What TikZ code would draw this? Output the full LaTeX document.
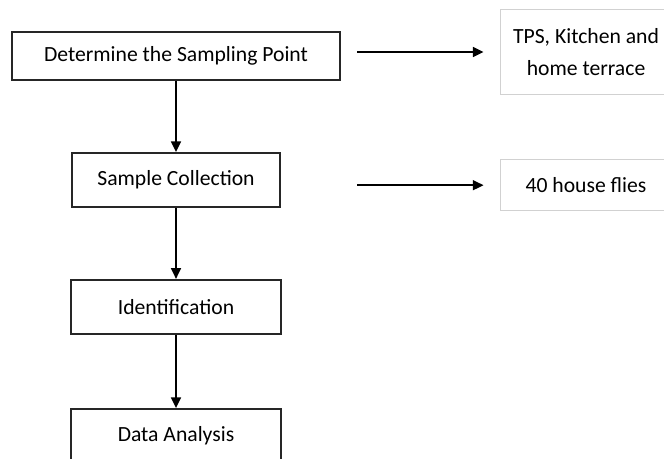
\documentclass[tikz,border=0pt]{standalone}
\usepackage{fontspec}
\setmainfont{Carlito}
\usetikzlibrary{arrows.meta}

\tikzset{
	stepbox/.style={draw=black!85, line width=1.3pt, minimum height=1.35cm, inner sep=0pt},
	notebox/.style={draw=black!18, line width=0.6pt, minimum width=4.3cm, inner sep=0pt, align=center},
}

\begin{document}
\begin{tikzpicture}[arrows={-Triangle[length=0.27cm,width=0.25cm]}, line width=1.2pt,
	font=\fontsize{15.4}{19}\selectfont]
	\useasboundingbox (0,0) rectangle (16.6,-11.45);

	\node[stepbox, minimum width=8.2cm, minimum height=1.2cm] (det) at (4.4,-1.4) {Determine the Sampling Point};
	\node[stepbox, minimum width=5.22cm] (col) at (4.4,-4.5) {Sample Collection};
	\node[stepbox, minimum width=5.25cm] (ident) at (4.4,-7.67) {Identification};
	\node[stepbox, minimum width=5.25cm] (data) at (4.4,-10.9) {Data Analysis};

	\node[notebox, minimum height=2.125cm, font=\fontsize{15.4}{22.5}\selectfont] (loc) at (14.65,-1.3) {TPS, Kitchen and\\home terrace};
	\node[notebox, minimum height=1.275cm] (flies) at (14.65,-4.63) {40 house flies};

	\coordinate (s1) at (8.925,-1.3);
	\coordinate (s2) at (8.925,-4.63);

	\draw (det) to (col);
	\draw (col) to (ident);
	\draw (ident) to (data);

	\draw[shorten >=0.4cm] (s1) to (loc);
	\draw[shorten >=0.4cm] (s2) to (flies);

\end{tikzpicture}
\end{document}
